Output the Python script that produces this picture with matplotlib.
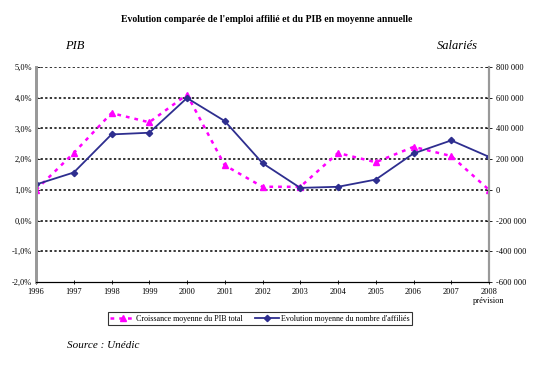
import numpy as np
import matplotlib
matplotlib.use('Agg')
import matplotlib.pyplot as plt

years = [1996, 1997, 1998, 1999, 2000, 2001, 2002, 2003, 2004, 2005, 2006, 2007, 2008]
pib = [1.0, 2.2, 3.5, 3.2, 4.1, 1.8, 1.1, 1.1, 2.2, 1.9, 2.4, 2.1, 1.0]
affilies = [35000, 113000, 361000, 372000, 598000, 448000, 174000, 13000, 20000, 67000, 237000, 322000, 215000]
year_labels = ['1996', '1997', '1998', '1999', '2000', '2001', '2002', '2003', '2004', '2005', '2006', '2007', '2008\nprévision']
pct_ticks = [-2, -1, 0, 1, 2, 3, 4, 5]
sal_ticks = [-600000, -400000, -200000, 0, 200000, 400000, 600000, 800000]

plt.rcParams['font.family'] = ['Liberation Serif', 'DejaVu Serif']

fig = plt.figure(figsize=(5.55, 3.71), dpi=100)
ax = fig.add_axes([36/555, 1-282/371, 453/555, 215/371])
ax2 = ax.twinx()

l1, = ax.plot(years, pib, color='#FF00FF', linestyle=(0, (1.5, 2)), linewidth=1.8,
              marker='^', markersize=5, markeredgecolor='#FF00FF')
l2, = ax2.plot(years, affilies, color='#2E2E8F', linewidth=1.3,
               marker='D', markersize=3.2)

ax.set_xlim(1996, 2008)
ax.set_ylim(-2, 5)
ax2.set_ylim(-600000, 800000)
ax.set_yticks(pct_ticks)
ax.set_yticklabels([('%.1f%%' % v).replace('.', ',') for v in pct_ticks])
ax2.set_yticks(sal_ticks)
ax2.set_yticklabels([('{:,}'.format(v)).replace(',', ' ') for v in sal_ticks])
ax.set_xticks(years)
ax.set_xticklabels(year_labels)

# dotted gridlines
for v in pct_ticks[1:]:
    ax.axhline(v, color='black', linestyle=(0, (1.5, 1.5)), linewidth=1.1, zorder=0)

for a in (ax, ax2):
    a.spines['top'].set_visible(False)
    a.spines['left'].set_color('#999999')
    a.spines['left'].set_linewidth(2)
    a.spines['right'].set_color('#999999')
    a.spines['right'].set_linewidth(1.5)
    a.spines['bottom'].set_linewidth(0.8)

ax.tick_params(axis='y', labelsize=6, length=3, width=0.6, direction='in', pad=3)
ax.tick_params(axis='x', labelsize=6, length=3, width=0.6, direction='inout', pad=3)
ax2.tick_params(axis='y', labelsize=6, length=4, width=0.6, direction='inout', pad=3)

fig.text(0.48, 1-20/371, "Evolution comparée de l'emploi affilié et du PIB en moyenne annuelle",
         ha='center', va='center', fontsize=7, fontweight='bold')
fig.text(75/555, 1-46/371, 'PIB', ha='center', va='center', fontsize=9, style='italic')
fig.text(457/555, 1-46/371, 'Salariés', ha='center', va='center', fontsize=9, style='italic')
fig.text(67/555, 1-346/371, 'Source : Unédic', ha='left', va='center', fontsize=8, style='italic')

leg = fig.legend([l1, l2], ['Croissance moyenne du PIB total', "Evolution moyenne du nombre d'affiliés"],
                 loc='lower left', bbox_to_anchor=(108/555, 1-325/371, 304/555, 13/371),
                 mode='expand', ncol=2, fontsize=5.8, frameon=True, fancybox=False,
                 borderaxespad=0, handlelength=3, borderpad=0.3, handletextpad=0.2)
leg.get_frame().set_edgecolor('black')
leg.get_frame().set_linewidth(0.8)

fig.savefig('out.png', dpi=100)
